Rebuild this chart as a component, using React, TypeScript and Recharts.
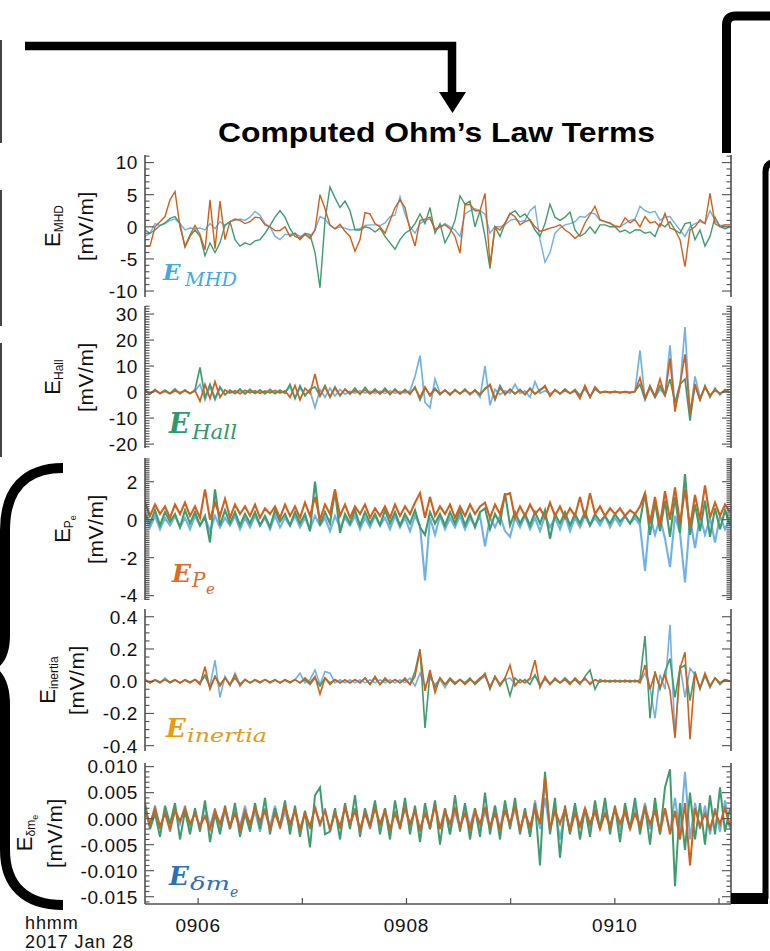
import React from 'react';
import { LineChart, Line, XAxis, YAxis } from 'recharts';

// ---- time axis: samples are evenly spaced, START_MIN .. END_MIN minutes after 09:00
const START_MIN = 5.49;
const END_MIN = 11.115;
const SPAN_IDX = 117.2;
const toIdx = (m: number) => ((m - START_MIN) / (END_MIN - START_MIN)) * SPAN_IDX;

const xTickMinutes = [6, 7, 8, 9, 10, 11];
const xTickLabels: Record<number, string> = { 6: '0906', 8: '0908', 10: '0910' };

// ---- E_MHD [mV/m]
const mhdBlue = [
  -1.5, -1, 0.5, 0.2, 0.5, 1, 1.2, 0.5, -0.5, -0.2,
  -0.3, -0.2, -0.5, 0.5, -0.3, 0.8, 0.2, 0.8, 1, 1.2,
  1, 1.5, 2.4, 1.8, 0.5, 0, -1.5, -2, -1.2, -1.2,
  -1, -1.5, -1.2, -1.5, -0.5, 1.6, 1.2, 0.2, -0.3, 0,
  -0.2, -0.5, -0.4, -0.3, 0.2, 0.3, 0.3, 0.2, 0.6, 1.6,
  1.8, 4.7, 2, 0, -1, 0.5, 1, 1.2, -0.3, 0,
  0.5, 0, -0.5, -1.5, 2, 2.5, 2.8, 2.5, 2, -1,
  0, 0, 0.3, 1, 1.2, 0.8, 1, 2.5, 3.2, -2,
  -5.5, -4, -1, -0.2, 0.3, 0.5, 0.8, 1.6, 1.5, 2.2,
  2, 1, 0.8, 0.5, 0.2, 0, 0.5, 1, 1.2, 3.2,
  2.5, 2.2, 2.4, 1, 1.5, 1.6, 0.5, -0.5, -1.5, 0,
  0.5, 0.8, 0.5, 2.5, 1, 0.2, 0.3, 0.3,
];
const mhdGreen = [
  -0.5, -1, -0.5, 0.2, 0.6, 1.3, 1.6, 0.5, -3.2, -1.5,
  -0.5, -1.5, -4.5, -2.5, -4, -2.5, 0.3, 0.8, -2, -3,
  -2.5, -2.8, -2.2, -2, -1, 0.2, 1.5, 2.5, 1.5, -0.3,
  -1.5, -1.8, -1, -1.2, -4, -9.5, 1, 6.2, 4.5, 3,
  4, 2.5, -0.5, -0.5, 0, -0.2, -0.8, -0.2, -1.5, -2.5,
  -3.5, -2, -1, -0.5, 0.5, 2, 0.5, 3, -1, 0.5,
  -2.5, -1, 1, 4.8, 3.5, 4, 0, 2.5, -1.5, -6.5,
  0, -1.5, 0.5, 2, 2.5, 1.5, 2, 1, -0.5, -1.5,
  0.5, 3.5, 1.5, 1, 1.5, 2.3, -0.5, -1.5, -1, 0,
  -1, 0.3, 0.3, 0, 0, -0.8, -0.5, -1, -0.5, -0.5,
  -1, -0.8, -1.5, 0.5, 0, 0.8, -0.5, -1, 0.5, 0.7,
  -2, -0.5, -3, -1.5, 1.5, 0, -0.3, 0,
];
const mhdOrange = [
  -3, -3, 0, 0.8, 1.6, 4.2, 5.5, 0, -3, -1.3,
  0.2, -1.2, -3.6, 4.2, -3.4, 4, -2, 0.8, 1.2, 1,
  0.5, 0.8, 1.5, 1.4, 0.3, 0, -0.6, -0.6, 0, -1.5,
  -1, -2, -1.2, -1.8, -0.5, 5, 2.8, 0.3, -0.3, 0.4,
  -0.7, -1.5, -3.8, -2, 2.2, 2, 0.5, 0, -1, 1,
  3, 4.2, 3, -0.5, -3, 1, 1.2, 1.5, -0.5, 0,
  0.3, -0.3, -1.5, -4.1, 3.4, 3.5, 2.5, 2.5, 5.2, -6,
  0, -0.5, 0.6, 2.1, 1.6, 0.3, 0.8, 1.1, 0, -0.7,
  -0.5, -0.2, 0, 0.3, -0.5, -1, -1.8, -1.2, 0.6, 1.9,
  3.2, 1.1, 0.8, 0.6, 0, 0, 1.4, 0.6, 1.1, 0,
  1.6, 0.6, 0.8, 0, 2.1, -0.2, -0.5, -2, -6.2, -0.5,
  0, 1.1, 0.5, 5.2, 0.5, 0, 0.3, 0.3,
];

// ---- E_Hall [mV/m]
const hallBlue = [
  0.3, -0.5, 0.5, -0.4, 0.3, -0.6, 0.4, -0.3, 0.5, -0.4,
  0.3, 3, -3, 2, -3, 1.5, -1, 0.3, -0.5, 0.5,
  -0.4, 0.3, -0.5, 0.4, -0.3, 0.5, -0.4, 0.3, -0.3, 2,
  -2, 1.5, -1, 0.5, -6, 1, -2, 1.5, -1.5, 1,
  -0.8, 0.3, -0.5, 0.5, -0.4, 0.3, -0.5, 0.4, -0.6, 0.5,
  -0.5, 0.3, -0.4, 0.5, 6, 14, -4, -6, 5, -0.5,
  0.5, -0.6, 0.5, -0.5, 0.5, -0.6, 0.5, -2, 10, -5,
  1, -1, 0.5, -0.5, 3, -0.5, 0.5, -2, 4, -0.5,
  0.5, -0.6, 0.5, -0.5, 0.5, -0.4, 0.3, -1, 1, -1.5,
  1, -0.2, 0.2, -0.2, 0.2, -0.2, 0.2, -0.1, 0.2, 16,
  -3, 1.5, -2, 1, -1, 18, -6, 2, 25, -9,
  6, -2, 1.5, -1, 0.5, -0.5, 0.3, 0,
];
const hallGreen = [
  0.5, -0.8, 1, -0.6, 0.8, -0.5, 1.2, -0.7, 0.9, -0.6,
  0.8, 9.5, -2, 3, -2.5, 2, -1, 0.8, -0.6, 1.2,
  -0.8, 1, -0.5, 0.9, -0.7, 1, -0.6, 0.8, -0.5, 3,
  -2.5, 2.5, -1.5, 1, 2, -1.5, 2.5, -2, 2, -1.5,
  1.2, -0.8, 1.5, -0.9, 1.8, -0.6, 1.2, -0.8, 1.5, -1,
  1.2, -0.7, 1, -0.9, 2, -3, 1.5, -1, 1.5, -1,
  0.8, -1.2, 1, -0.8, 1.2, -1, 0.9, -1.2, 1.5, 2.5,
  -3, 2.5, -1, 1.2, -0.8, 1, -1, 1.5, -0.8, 1,
  2, -1.5, 1, -0.8, 1.2, -0.6, 1, -1.5, 2, -2,
  1.5, -0.3, 0.3, -0.2, 0.3, -0.2, 0.2, -0.3, 0.3, 3,
  -3, 2.5, -2, 2.5, -1.5, 5, -4, 3, 5, -11,
  3, -3, 2.5, -2, 1.5, -1, 1, 0,
];
const hallOrange = [
  0.8, -0.5, 0.6, -0.4, 0.3, -0.6, 0.5, -0.3, 0.4, -0.5,
  0.6, -3.5, 3, -2.5, 4, -2, 0.8, -0.4, 0.5, -0.6,
  0.7, -0.3, 0.5, -0.5, 0.4, -0.3, 0.6, -0.4, 0.5, -2,
  2.5, -3, 1.5, -0.5, 7, -1.5, 2, -1.8, 1.5, -1.2,
  1, -0.4, 0.5, -0.5, 0.8, -0.6, 0.5, -0.4, 0.6, -0.5,
  0.7, -0.6, 0.5, -0.4, 1.5, -2, 2, -1.5, 1, -0.5,
  0.6, -0.8, 0.7, -0.5, 0.8, -0.6, 0.5, -0.7, 1, 3,
  -2.5, 1.5, -0.6, 0.8, -0.5, 0.7, -0.8, 1.2, -0.6, 0.5,
  2.5, -1.5, 0.8, -0.5, 0.6, -0.4, 0.5, -2.5, 2.5, -2,
  2, -0.2, 0.2, -0.1, 0.2, -0.2, 0.1, -0.2, 0.2, 5.5,
  -2, 2, -1.5, 5, -1.5, 13, -7.5, 3, 14.5, -8,
  2.5, -3, 2, -1.5, 0.8, -0.5, 0.5, 0,
];

// ---- E_Pe [mV/m]
const peBlue = [
  0.1, -0.4, 0.2, -0.5, 0.1, -0.3, 0.2, -0.4, 0.1, -0.5,
  0.2, -0.3, 0.1, -0.6, 0.2, -0.4, 0.1, -0.3, 0.2, -0.5,
  0.1, -0.4, 0.2, -0.3, 0.1, -0.5, 0.2, -0.4, 0.1, -0.3,
  0.2, -0.4, 0.1, -0.5, 0.2, -0.3, 0.1, -0.6, 0.2, -0.4,
  0.1, -0.3, 0.2, -0.5, 0.1, -0.4, 0.2, -0.3, 0.1, -0.5,
  0.2, -0.4, 0.1, -0.6, 0.2, -0.3, -3.2, 0.1, -0.8, 0.2,
  -0.5, 0.1, -0.4, 0.2, -0.5, 0.1, -0.3, 0.2, -1.4, 0.1,
  -0.4, 0.2, -0.6, -0.9, 0.1, -0.4, 0.2, -0.5, 0.1, -0.6,
  0.2, -0.4, 0.1, -0.5, 0.2, -0.6, 0.1, -0.4, 0.2, -0.3,
  0.1, -0.3, 0.2, -0.4, 0.1, -0.3, 0.2, -0.2, 0.1, -0.3,
  -2.7, 0.2, -0.8, 0.1, -1.0, -2.5, 0.2, -0.7, -3.3, 0.1,
  -1.5, 0.2, -0.8, 0.1, -1.2, 0.2, -0.5, 0.1,
];
const peGreen = [
  0.3, -0.2, 0.5, -0.3, 0.4, -0.1, 0.3, -0.4, 0.5, -0.2,
  0.4, -0.3, 0.2, -1.2, 1.6, -0.3, 0.5, -0.2, 0.4, -0.3,
  0.3, -0.2, 0.4, -0.3, 0.2, -0.4, 0.5, -0.1, 0.3, -0.3,
  0.4, -0.2, 0.3, -0.6, 2.0, -0.3, 0.4, -0.2, 1.5, -0.7,
  0.3, -0.2, 0.5, -0.3, 0.4, -0.2, 0.3, -0.3, 0.5, -0.2,
  0.4, -0.3, 0.3, -0.2, 0.5, -0.4, -0.8, 0.4, -0.2, 0.3,
  -0.3, 0.4, -0.2, 0.5, -0.3, 0.3, -0.4, 0.4, 0.6, -0.5,
  0.3, -0.2, 1.4, -0.3, 0.4, -0.2, 0.3, -0.3, 0.4, -0.2,
  0.5, -1.0, 0.3, -0.2, 0.4, -0.3, 0.3, -0.2, 0.4, -0.3,
  0.3, -0.1, 0.2, -0.2, 0.3, -0.1, 0.2, -0.2, 0.3, -0.1,
  1.4, -0.8, 0.9, -0.6, 1.0, -0.9, 1.2, -0.7, 2.4, -0.8,
  0.8, -0.6, 1.0, -0.9, 0.6, -0.5, 0.5, -0.3,
];
const peOrange = [
  0.9, 0.2, 0.8, 0.3, 0.7, 0.1, 0.8, 0.3, 0.9, 0.2,
  0.7, 0.1, 1.6, 0.0, 0.9, 0.2, 1.1, 0.1, 0.8, 0.3,
  0.7, 0.2, 0.8, 0.1, 0.6, 0.3, 0.7, 0.1, 0.8, 0.2,
  0.7, 0.1, 0.9, 0.2, 1.2, 0.0, 0.8, 0.3, 1.6, 0.2,
  0.8, 0.1, 0.7, 0.3, 0.8, 0.1, 0.6, 0.2, 0.7, 0.1,
  0.8, 0.2, 0.7, 0.3, 0.9, 1.4, 0.1, 1.2, 0.2, 0.7,
  0.3, 0.8, 0.1, 0.7, 0.2, 0.8, 0.3, 0.7, 0.9, 0.1,
  0.8, 0.3, 1.3, 1.4, 0.1, 0.7, 0.2, 0.8, 0.3, 0.6,
  0.1, 0.9, 0.2, 0.7, 0.1, 0.6, 0.2, 1.2, 0.1, 1.4,
  0.3, 0.7, 0.2, 0.6, 0.3, 0.6, 0.2, 0.5, 0.3, 0.7,
  1.4, -0.2, 1.2, -0.3, 1.5, 0.0, 1.7, -0.2, 1.6, -0.4,
  1.3, 0.0, 1.8, 0.1, 0.9, 0.2, 0.8, 0.4,
];

// ---- E_inertia [mV/m]
const inBlue = [
  0.01, -0.01, 0.01, -0.01, 0.02, -0.01, 0.01, -0.01, 0.01, -0.01,
  0.01, -0.01, 0.03, -0.03, 0.13, -0.1, 0.03, -0.03, 0.05, -0.02,
  0.01, -0.01, 0.01, -0.01, 0.01, -0.01, 0.01, -0.01, 0.01, -0.01,
  0.01, 0.05, -0.01, 0.01, 0.07, -0.02, 0.06, 0.05, -0.01, 0.01,
  -0.01, 0.01, -0.01, 0.01, -0.01, 0.01, -0.01, 0.01, -0.01, 0.01,
  -0.01, 0.01, -0.01, 0.02, -0.03, 0.05, -0.03, 0.02, -0.02, 0.01,
  -0.04, 0.01, -0.01, 0.01, -0.01, 0.01, -0.01, 0.01, 0.03, -0.03,
  0.02, -0.02, 0.01, 0.02, -0.02, 0.01, -0.01, 0.01, 0.03, -0.02,
  0.01, -0.01, 0.01, -0.01, 0.01, -0.01, 0.01, -0.01, 0.01, -0.01,
  0.01, -0.005, 0.005, -0.005, 0.005, -0.005, 0.005, -0.005, 0.005, -0.005,
  0.05, -0.04, -0.23, 0.04, -0.05, 0.35, -0.35, 0.1, -0.1, 0.08,
  0.04, -0.04, 0.03, -0.03, 0.02, -0.01, 0.01, 0,
];
const inGreen = [
  0.005, -0.01, 0.01, -0.005, 0.01, -0.01, 0.005, -0.01, 0.01, -0.005,
  0.01, -0.01, 0.04, -0.04, 0.03, -0.02, 0.02, -0.02, 0.02, -0.02,
  0.01, -0.01, 0.005, -0.01, 0.01, -0.005, 0.01, -0.01, 0.005, -0.01,
  0.01, -0.01, 0.01, -0.02, 0.02, -0.03, 0.02, -0.01, 0.01, -0.01,
  0.01, -0.01, 0.01, -0.01, 0.02, -0.02, 0.02, -0.02, 0.01, -0.01,
  0.01, -0.01, 0.02, -0.02, 0.06, 0.2, -0.29, 0.05, -0.04, 0.02,
  -0.02, 0.01, -0.02, 0.01, -0.01, 0.02, -0.02, 0.01, 0.05, -0.05,
  0.03, -0.03, 0.02, -0.09, 0.02, -0.01, 0.01, -0.02, 0.04, -0.03,
  0.02, -0.02, 0.01, -0.01, 0.02, -0.01, 0.01, -0.02, 0.03, 0.07,
  -0.05, 0.01, -0.005, 0.005, -0.005, 0.005, -0.005, 0.005, -0.005, 0.01,
  0.28, -0.23, 0.06, -0.05, 0.06, 0.14, -0.1, 0.08, 0.1, -0.12,
  0.06, -0.05, 0.04, -0.04, 0.02, -0.02, 0.01, 0,
];
const inOrange = [
  0.01, -0.01, 0.005, -0.01, 0.01, -0.005, 0.01, -0.01, 0.005, -0.01,
  0.01, -0.02, 0.09, -0.05, 0.03, -0.03, 0.02, -0.02, 0.04, -0.03,
  0.01, -0.01, 0.01, -0.005, 0.01, -0.01, 0.005, -0.01, 0.01, -0.005,
  0.01, -0.01, 0.02, -0.01, 0.03, -0.08, 0.02, -0.02, 0.01, -0.01,
  0.005, -0.01, 0.01, -0.01, 0.02, -0.02, 0.03, -0.02, 0.02, -0.01,
  0.01, -0.01, 0.01, -0.02, 0.03, 0.19, -0.06, 0.07, -0.07, 0.02,
  -0.02, 0.02, -0.01, 0.01, -0.02, 0.01, -0.01, 0.02, 0.04, -0.04,
  0.03, -0.02, 0.02, 0.1, -0.03, 0.01, -0.01, 0.02, 0.13, -0.04,
  0.03, -0.02, 0.02, -0.01, 0.01, -0.02, 0.02, -0.01, 0.02, -0.02,
  0.01, -0.005, 0.005, -0.005, 0.005, -0.005, 0.005, -0.005, 0.005, -0.01,
  0.1, -0.05, 0.05, -0.04, 0.04, -0.06, -0.35, 0.08, 0.18, -0.36,
  0.05, -0.04, 0.05, -0.03, 0.02, -0.01, 0.01, 0,
];

// ---- E_δme in units of 0.001 mV/m
const dmBlue = [
  2, -1.5, 2.5, -2, 1.5, -2.5, 2, -1, 2.5, -2,
  1.5, -2, 2.5, -1.5, 2, -2.5, 1.5, -2, 2, -1.5,
  2.5, -2, 1.5, -2.5, 2, -1.5, 2.5, -2, 1.5, -2,
  2, -2.5, 1.5, -2, 2.5, -1.5, 2, -2.5, 1.5, -2,
  2.5, -1.5, 2, -2.5, 1.5, -2, 2.5, -1.5, 2, -2.5,
  1.5, -2, 2.5, -1.5, 2, -2.5, 1.5, -2, 3, -2,
  2, -3, 1.5, -2, 2.5, -1.5, 2, -2.5, 1.5, -2,
  2.5, -2, 3, -1.5, 2, -2.5, 1.5, -3, 3.5, -2,
  4, -2.5, 2, -4, 1.5, -2, 2.5, -1.5, 2, -2,
  1.5, -2, 2.5, -1.5, 2, -2.5, 1.5, -2, 2.5, -1.5,
  3, -2, 2.5, -3, 2, -2.5, 4, -3, 9, -4,
  3, -2, 2.5, -3, 2, -2.5, 3.5, -2,
];
const dmGreen = [
  3, -2, 1, -3.5, 2.5, -1, 3, -4, 1.5, -3,
  2, -2.5, 3.5, -4.5, 1, -3, 2.5, -2, 3, -3.5,
  1, -2.5, 3, -2, 4, -3, 2, -1.5, 3.5, -3,
  2.5, -3.5, 1.5, -5.5, 4.5, 6, -3, -2.5, 2, -4,
  3, -2, 4.5, -3.5, 2, -1.5, 3.5, -3, 2, -4,
  3.5, -2, 4, -3, 2.5, -4.5, 3, -2, 3.5, -5,
  2, -3, 4.5, -2.5, 3, -4, 2, -3.5, 5, -3,
  2.5, -4, 3.5, -2, 4, -3, 2, -3.5, 3, -9,
  9, -3, 4, -7.5, 2.5, -3, 3, -4, 2, -3.5,
  3.5, -2, 4, -3, 2.5, -4.5, 3, -2, 4, -3,
  2.5, -5, 4, -3, 6, 9.5, -13, 3, -6, 5,
  -4, 3, -5, 4.5, -3, 6, -2.5, 2,
];
const dmOrange = [
  1.5, -1, 2, -1.5, 1, -2, 1.5, -0.5, 2, -1,
  1, -1.5, 0.5, -2, 1.5, -1, 2, -1.5, 1, -2,
  1.5, -1, 2, -0.5, 1.5, -2, 1, -1.5, 2.5, -1,
  1.5, -2, 1, -1.5, 2, -1, 1.5, -2, 1, -1.5,
  2, -1, 1.5, -2, 1, -1.5, 2, -1, 1.5, -2,
  1, -1.5, 2, -1, 1.5, -2, 1, -1.5, 2.5, -2,
  1.5, -1, 2, -1.5, 1, -2, 1.5, -1, 2, -1.5,
  1, -2, 1.5, -1, 2.5, -2, 1, -1.5, 2, -1,
  8, -2, 1.5, -1, 2, -2.5, 1, -1.5, 2, -1,
  1.5, -2, 1, -1.5, 2, -1, 1.5, -2, 1, -1.5,
  2, -1, 1.5, -2.5, 2, -3, 1.5, -4, 3, -9,
  2, -1.5, 1, -2, 1.5, -1, 2, -1.5,
];

const BLUE = '#70b1e8';
const GREEN = '#3f9c6d';
const ORANGE = '#d0601c';
const FRAME = '#505050';
const FONT = "'Liberation Sans', Arial, Helvetica, sans-serif";
const MATH = "'DejaVu Serif', serif";
const PAD = 14; // room above/below each plot so edge tick labels are not cut

const range = (a: number, b: number, step: number) => {
  const out: number[] = [];
  for (let v = a; v <= b + 1e-9; v += step) out.push(Math.round(v * 1000) / 1000);
  return out;
};

type PanelProps = {
  top: number;
  height: number;
  blue: number[];
  green: number[];
  orange: number[];
  domain: [number, number];
  major: number[];
  minor: number[];
  fmt: (v: number) => string;
  showX?: boolean;
  sw?: number;
};

function Panel({ top, height, blue, green, orange, domain, major, minor, fmt, showX, sw = 1.3 }: PanelProps) {
  const rows = orange.map((o, i) => ({ i, b: blue[i], g: green[i], o }));
  const xh = showX ? 40 : 0;
  const isMajor = (v: number) => major.some((m) => Math.abs(m - v) < 1e-6);
  const yTicks = [...major, ...minor.filter((v) => !isMajor(v))];
  const xTicks = xTickMinutes.map(toIdx);
  const labelFor = (idx: number) => {
    const m = xTickMinutes.find((mm) => Math.abs(toIdx(mm) - idx) < 1e-6);
    return m !== undefined ? xTickLabels[m] : undefined;
  };

  const leftTick = (p: any) => {
    const v = p.payload.value;
    const maj = isMajor(v);
    return (
      <g>
        <line x1={p.x} y1={p.y} x2={p.x + (maj ? 9 : 4.5)} y2={p.y} stroke={FRAME} strokeWidth={1.1} />
        {maj && (
          <text x={p.x - 7} y={p.y} dy="0.36em" textAnchor="end" fontFamily={FONT} fontSize={19}
            fill="#111" style={{ letterSpacing: '0.6px' }}>
            {fmt(v)}
          </text>
        )}
      </g>
    );
  };
  const rightTick = (p: any) => {
    const maj = isMajor(p.payload.value);
    return <line x1={p.x} y1={p.y} x2={p.x - (maj ? 9 : 4.5)} y2={p.y} stroke={FRAME} strokeWidth={1.1} />;
  };
  const bottomTick = (p: any) => {
    const lab = showX ? labelFor(p.payload.value) : undefined;
    return (
      <g>
        <line x1={p.x} y1={p.y} x2={p.x} y2={p.y - 6} stroke={FRAME} strokeWidth={1.2} />
        {lab && (
          <text x={p.x} y={p.y + 28} textAnchor="middle" fontFamily={FONT} fontSize={19} fill="#111"
            style={{ letterSpacing: '0.8px' }}>
            {lab}
          </text>
        )}
      </g>
    );
  };
  const topTick = (p: any) => <line x1={p.x} y1={p.y} x2={p.x} y2={p.y + 6} stroke={FRAME} strokeWidth={1.2} />;

  const axisLine = { stroke: FRAME, strokeWidth: 1.6 };

  return (
    <div style={{ position: 'absolute', left: 0, top: top - PAD }}>
      <LineChart width={770} height={height + xh + 2 * PAD} data={rows}
        margin={{ top: PAD, right: 0, bottom: PAD, left: 0 }}>
        <XAxis xAxisId="b" dataKey="i" type="number" domain={[0, SPAN_IDX]} allowDataOverflow ticks={xTicks}
          interval={0} height={xh} tickLine={false} tickSize={0} tickMargin={0} axisLine={axisLine} tick={bottomTick} />
        <XAxis xAxisId="t" orientation="top" dataKey="i" type="number" domain={[0, SPAN_IDX]} allowDataOverflow
          ticks={xTicks} interval={0} height={0} tickLine={false} tickSize={0} tickMargin={0} axisLine={axisLine}
          tick={topTick} />
        <YAxis yAxisId="l" type="number" domain={domain} allowDataOverflow width={145} ticks={yTicks} interval={0}
          tickLine={false} tickSize={0} tickMargin={0} axisLine={axisLine} tick={leftTick} />
        <YAxis yAxisId="r" orientation="right" type="number" domain={domain} allowDataOverflow width={39}
          ticks={yTicks} interval={0} tickLine={false} tickSize={0} tickMargin={0} axisLine={axisLine}
          tick={rightTick} />
        <Line xAxisId="b" yAxisId="l" type="linear" dataKey="b" stroke={BLUE} strokeWidth={sw} dot={false}
          isAnimationActive={false} />
        <Line xAxisId="b" yAxisId="l" type="linear" dataKey="g" stroke={GREEN} strokeWidth={sw} dot={false}
          isAnimationActive={false} />
        <Line xAxisId="b" yAxisId="l" type="linear" dataKey="o" stroke={ORANGE} strokeWidth={sw} dot={false}
          isAnimationActive={false} />
      </LineChart>
    </div>
  );
}

function YTitle({ cy, ex, ux, sub, subsub }: { cy: number; ex: number; ux: number; sub: string; subsub?: string }) {
  return (
    <g fontFamily={FONT} fill="#111">
      <text transform={`translate(${ex},${cy}) rotate(-90)`} textAnchor="middle" fontSize={22}>
        E
        <tspan fontSize={12} dy={3}>{sub}</tspan>
        {subsub && <tspan fontSize={9} dy={3}>{subsub}</tspan>}
      </text>
      <text transform={`translate(${ux},${cy}) rotate(-90)`} textAnchor="middle" fontSize={21}
        style={{ letterSpacing: '0.6px' }}>
        [mV/m]
      </text>
    </g>
  );
}

export default function App() {
  return (
    <div style={{ position: 'absolute', left: 0, top: 0, width: 770, height: 951, background: '#fff', overflow: 'hidden' }}>
      <Panel top={155} height={142} blue={mhdBlue} green={mhdGreen} orange={mhdOrange} domain={[-10.93, 11.18]}
        major={[-10, -5, 0, 5, 10]} minor={range(-10, 11, 1)} fmt={(v) => String(v)} sw={1.4} />
      <Panel top={306} height={142} blue={hallBlue} green={hallGreen} orange={hallOrange} domain={[-21.5, 33.1]}
        major={[-20, -10, 0, 10, 20, 30]} minor={range(-21, 33, 1)} fmt={(v) => String(v)} sw={1.7} />
      <Panel top={458} height={142} blue={peBlue} green={peGreen} orange={peOrange} domain={[-4.23, 3.25]}
        major={[-4, -2, 0, 2]} minor={range(-4.2, 3.2, 0.1)} fmt={(v) => String(v)} sw={2.1} />
      <Panel top={609} height={142} blue={inBlue} green={inGreen} orange={inOrange} domain={[-0.433, 0.448]}
        major={[-0.4, -0.2, 0, 0.2, 0.4]} minor={range(-0.4, 0.4, 0.05)} fmt={(v) => v.toFixed(1)} sw={1.6} />
      <Panel top={763} height={141} blue={dmBlue} green={dmGreen} orange={dmOrange} domain={[-16.4, 10.7]}
        major={[-15, -10, -5, 0, 5, 10]} minor={range(-16, 10, 1)} fmt={(v) => (v / 1000).toFixed(3)} showX sw={2} />

      <svg width={770} height={951} style={{ position: 'absolute', left: 0, top: 0, pointerEvents: 'none' }}>
        {/* remnants of the neighbouring figure at the left edge */}
        <rect x={0} y={40} width={2} height={103} fill="#444" />
        <rect x={0} y={190} width={2} height={136} fill="#444" />
        <rect x={0} y={343} width={2} height={114} fill="#444" />

        {/* arrow into the title */}
        <path d="M25,46 H452 V95" fill="none" stroke="#000" strokeWidth={8.5} />
        <polygon points="439,92 466,92 452.5,113" fill="#000" />

        {/* right-hand brackets */}
        <path d="M726.5,153 V25 Q726.5,16 735.5,16 H780" fill="none" stroke="#000" strokeWidth={9} />
        <path d="M765.5,899 V172 Q765.5,162 776,162" fill="none" stroke="#000" strokeWidth={6} />
        <rect x={731} y={893} width={37} height={11} fill="#000" />

        {/* left curly brace */}
        <path d="M63,468 C25,468 5,490 5,530 L5,635 C5,655 -2,665 -14,668 C-2,672 5,682 5,705 L5,850 C5,885 25,905 63,905"
          fill="none" stroke="#000" strokeWidth={10} />

        <text x={218} y={142} fontFamily={FONT} fontWeight="bold" fontSize={27} fill="#000" textLength={437}
          lengthAdjust="spacingAndGlyphs">
          Computed Ohm’s Law Terms
        </text>

        <YTitle cy={226} ex={60} ux={93} sub="MHD" />
        <YTitle cy={377} ex={60} ux={93} sub="Hall" />
        <YTitle cy={529} ex={70} ux={103} sub="P" subsub="e" />
        <YTitle cy={680} ex={55} ux={84} sub="inertia" />
        <YTitle cy={833} ex={32} ux={62} sub="δm" subsub="e" />

        {/* coloured term labels */}
        <g fontFamily={MATH} fontStyle="italic">
          <text x={163} y={280} fill="#3fa9e8" fontWeight="bold" fontSize={23}>E</text>
          <text x={185} y={286} fill="#3fa9e8" fontSize={18} textLength={52} lengthAdjust="spacingAndGlyphs">MHD</text>

          <text x={169} y={433} fill="#2e9a6a" fontWeight="bold" fontSize={27}>E</text>
          <text x={192} y={439} fill="#2e9a6a" fontSize={21} textLength={45} lengthAdjust="spacingAndGlyphs">Hall</text>

          <text x={172} y={582} fill="#dc6a28" fontWeight="bold" fontSize={25}>E</text>
          <text x={192} y={587} fill="#dc6a28" fontSize={20}>P</text>
          <text x={206} y={594} fill="#dc6a28" fontSize={15}>e</text>

          <text x={166} y={737} fill="#e89a10" fontWeight="bold" fontSize={26}>E</text>
          <text x={187} y={742} fill="#e89a10" fontSize={19} textLength={80} lengthAdjust="spacingAndGlyphs">inertia</text>

          <text x={169} y={885} fill="#2c70b8" fontWeight="bold" fontSize={26}>E</text>
          <text x={190} y={890} fill="#2c70b8" fontSize={19} textLength={40} lengthAdjust="spacingAndGlyphs">δm</text>
          <text x={230} y={897} fill="#2c70b8" fontSize={14}>e</text>
        </g>

        <text x={25} y={929} fontFamily={FONT} fontSize={18} fill="#111" style={{ letterSpacing: '0.9px' }}>hhmm</text>
        <text x={25} y={948} fontFamily={FONT} fontSize={18} fill="#111" style={{ letterSpacing: '0.9px' }}>2017 Jan 28</text>
      </svg>
    </div>
  );
}
